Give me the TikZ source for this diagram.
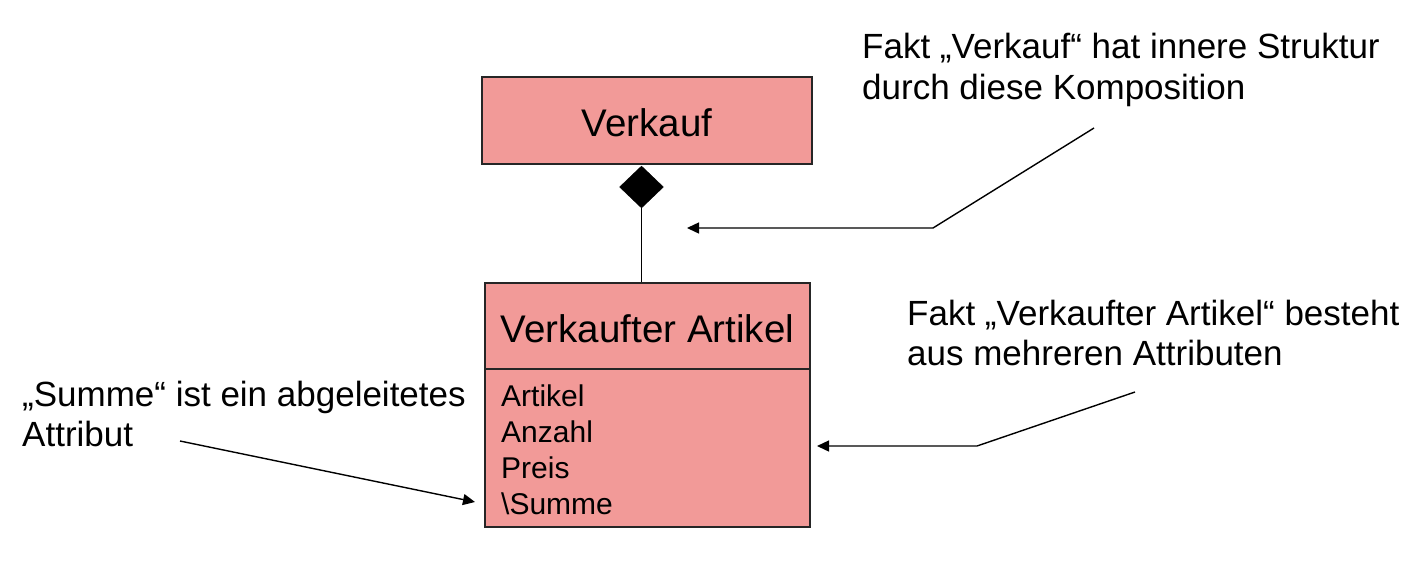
\documentclass[tikz,border=0pt]{standalone}
\usepackage{fontspec}
\setmainfont{Liberation Sans}
\usetikzlibrary{shapes.geometric,arrows.meta}
\definecolor{boxfill}{HTML}{F29A98}
\begin{document}
\begin{tikzpicture}[x=1pt,y=-1pt,
  umlbox/.style={draw=black!85,line width=1.5pt,fill=boxfill,inner sep=0pt,rectangle},
  headtext/.style={font=\fontsize{38.5}{40}\selectfont},
  attrtext/.style={anchor=base west,inner sep=0pt,font=\fontsize{30}{34}\selectfont},
  note/.style={anchor=base west,inner sep=0pt,font=\fontsize{35}{40}\selectfont},
  conn/.style={line width=1.4pt,black},
  arr/.style={conn,-{Triangle[length=12pt,width=11pt]}}]
\useasboundingbox (0,0) rectangle (1416,584);
% boxes
\node[umlbox,minimum width=330pt,minimum height=87pt] (verkauf) at (647,120.5) {};
\node[headtext,anchor=base] (verkaufT) at (647,136) {Verkauf};
\node[umlbox,minimum width=325pt,minimum height=86pt] (head2) at (647.5,326) {};
\node[headtext,anchor=base] (head2T) at (647.5,342) {Verkaufter Artikel};
\node[umlbox,minimum width=325pt,minimum height=158pt] (attr2) at (647.5,448) {};
\node[attrtext] (a1) at (501,406) {Artikel};
\node[attrtext] (a2) at (501,442) {Anzahl};
\node[attrtext] (a3) at (501,478) {Preis};
\node[attrtext] (a4) at (501,514) {\textbackslash Summe};
% composition
\node[diamond,fill=black,draw=black,inner sep=0pt,minimum width=44pt,minimum height=42pt] (dia) at (641.5,187) {};
\draw[conn] (dia.south) -- (dia.south |- head2.north);
% notes
\node[note] (n1a) at (862,58) {Fakt „Verkauf“ hat innere Struktur};
\node[note] (n1b) at (862,99) {durch diese Komposition};
\node[note] (n2a) at (907,325) {Fakt „Verkaufter Artikel“ besteht};
\node[note] (n2b) at (907,365) {aus mehreren Attributen};
\node[note] (n3a) at (22,406) {„Summe“ ist ein abgeleitetes};
\node[note] (n3b) at (22,446) {Attribut};
% connectors
\coordinate (s1) at (1094,128);
\coordinate (b1) at (933,228);
\coordinate (t1) at (687,228);
\draw[arr] (s1) -- (b1) -- (t1);
\coordinate (s2) at (1135,392);
\coordinate (b2) at (977,446);
\coordinate (t2) at (817,446);
\draw[arr] (s2) -- (b2) -- (t2);
\coordinate (s3) at (180,441);
\coordinate (t3) at (475,502);
\draw[arr] (s3) -- (t3);
\end{tikzpicture}
\end{document}
